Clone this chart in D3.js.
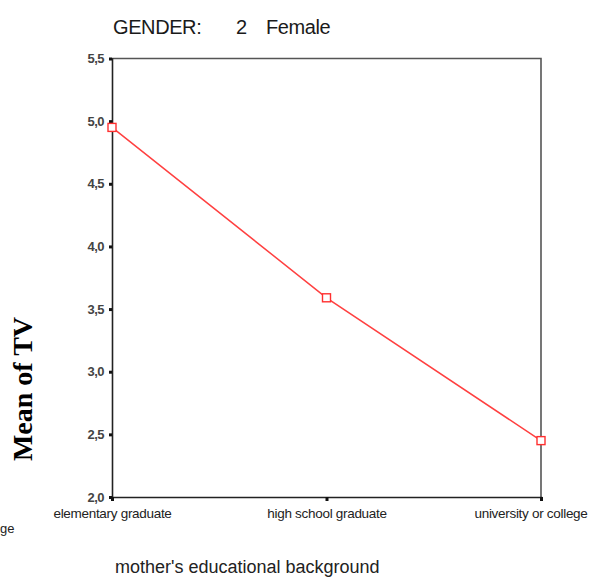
<!DOCTYPE html>
<html>
<head>
<meta charset="utf-8">
<script src="https://cdn.jsdelivr.net/npm/d3@7"></script>
<style>
  html, body { margin: 0; padding: 0; background: #fff; }
  svg { display: block; }
</style>
</head>
<body>
<script>
// Mean TV score by mother's education, female respondents
const categories = ["elementary graduate", "high school graduate", "university or college"];
const meanTV = [4.95, 3.59, 2.45];
const yTicks = [2.0, 2.5, 3.0, 3.5, 4.0, 4.5, 5.0, 5.5];
const titleParts = ["GENDER:", "2", "Female"];
const xTitle = "mother's educational background";
const yTitle = "Mean of TV";

const W = 592, H = 579;
const plot = { left: 112, right: 541, top: 58.5, bottom: 497 };

const svg = d3.select("body").append("svg")
  .attr("width", W).attr("height", H);

const x = d3.scalePoint().domain(categories).range([plot.left, plot.right]).padding(0);
const y = d3.scaleLinear().domain([2.0, 5.5]).range([plot.bottom, plot.top]);

const fmt = d => d.toFixed(1).replace(".", ",");

// frame: top and right edges
svg.append("path")
  .attr("d", `M${plot.left},${plot.top}H${plot.right}V${plot.bottom}`)
  .attr("fill", "none").attr("stroke", "#555").attr("stroke-width", 1.6);

// y axis
const yAxis = svg.append("g")
  .attr("transform", `translate(${plot.left},0)`)
  .call(d3.axisLeft(y).tickValues(yTicks).tickFormat(fmt).tickSize(3).tickPadding(5));
yAxis.select(".domain").attr("stroke", "#222").attr("stroke-width", 1.6);
yAxis.selectAll(".tick line").attr("stroke", "#111").attr("stroke-width", 3);
yAxis.selectAll(".tick text")
  .attr("font-family", "Liberation Sans, Arial, sans-serif")
  .attr("font-size", 13).attr("font-weight", "bold")
  .attr("letter-spacing", -0.5)
  .attr("fill", "#444");

// x axis
const xAxis = svg.append("g")
  .attr("transform", `translate(0,${plot.bottom})`)
  .call(d3.axisBottom(x).tickSize(4).tickPadding(7));
xAxis.select(".domain").attr("stroke", "#222").attr("stroke-width", 1.6);
xAxis.selectAll(".tick line").attr("stroke", "#111").attr("stroke-width", 3);
xAxis.selectAll(".tick text")
  .attr("font-family", "Liberation Sans, Arial, sans-serif")
  .attr("font-size", 13.5).attr("fill", "#222")
  .attr("letter-spacing", -0.3)
  .attr("dx", (d, i) => i === categories.length - 1 ? -10.5 : 0);

// line of means
const line = d3.line().x((d, i) => x(categories[i])).y(d => y(d));
svg.append("path")
  .datum(meanTV)
  .attr("d", line)
  .attr("fill", "none").attr("stroke", "#ff4040").attr("stroke-width", 1.5);

// square markers
const m = 8;
svg.selectAll("rect.pt")
  .data(meanTV)
  .join("rect")
  .attr("class", "pt")
  .attr("x", (d, i) => x(categories[i]) - m / 2)
  .attr("y", d => y(d) - m / 2)
  .attr("width", m).attr("height", m)
  .attr("fill", "#fff").attr("stroke", "#ff3030").attr("stroke-width", 1.4);

// title: split-file label, value and value label
const titleX = [113, 236, 266];
svg.append("text")
  .attr("y", 34)
  .attr("font-family", "Liberation Sans, Arial, sans-serif")
  .attr("font-size", 20).attr("fill", "#1a1a1a")
  .attr("letter-spacing", -0.4)
  .selectAll("tspan")
  .data(titleParts)
  .join("tspan")
  .attr("x", (d, i) => titleX[i])
  .text(d => d);

// x axis title
svg.append("text")
  .attr("x", 115).attr("y", 573)
  .attr("font-family", "Liberation Sans, Arial, sans-serif")
  .attr("font-size", 18).attr("fill", "#222")
  .text(xTitle);

// y axis title
svg.append("text")
  .attr("transform", `translate(32,389) rotate(-90)`)
  .attr("text-anchor", "middle")
  .attr("font-family", "Liberation Serif, Times New Roman, serif")
  .attr("font-size", 28).attr("font-weight", "bold").attr("fill", "#000")
  .text(yTitle);

// tail of a neighbouring panel's category label
svg.append("text")
  .attr("x", 0).attr("y", 533)
  .attr("font-family", "Liberation Sans, Arial, sans-serif")
  .attr("font-size", 13).attr("fill", "#222")
  .text("ge");
</script>
</body>
</html>
